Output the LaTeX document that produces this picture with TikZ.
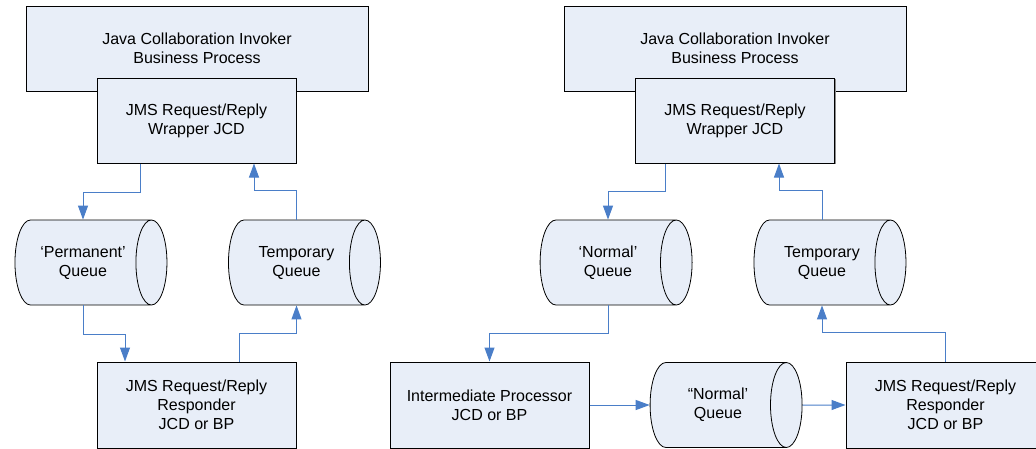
\documentclass[tikz,border=0pt]{standalone}
\usepackage{fontspec}
\setmainfont{Liberation Sans}
\usepackage{tikz}
\usetikzlibrary{arrows.meta,positioning,shapes.geometric,shadows}
\definecolor{boxfill}{HTML}{E8EEF8}
\definecolor{flowblue}{HTML}{4A7EC8}

\begin{document}
\begin{tikzpicture}[x=1pt, y=1pt, >={Triangle[width=10pt,length=14pt]},
  font=\fontsize{16}{19}\selectfont,
  proc/.style={draw, line width=1pt, fill=boxfill, align=center, inner sep=0pt,
    minimum width=199pt, minimum height=85pt,
    drop shadow={shadow xshift=1.2pt, shadow yshift=-1.2pt, fill=black!45, opacity=1}},
  queue/.style={cylinder, draw, line width=0.8pt, fill=boxfill, align=center,
    inner sep=0pt, minimum height=152pt, minimum width=85pt, aspect=0.94},
  flow/.style={->, flowblue, line width=1pt}]
  \useasboundingbox (0,0) rectangle (1036,-448);

  % requester side, left
  \node[proc, minimum width=342pt] (bpL) at (197,-48.5) {Java Collaboration Invoker\\Business Process};
  \node[proc] (wrapL) at (196.5,-120.5) {JMS Request/Reply\\Wrapper JCD};
  \node[queue] (permQ) at (83,-262.5) {‘Permanent’\\Queue};
  \node[queue] (tempQL) at (296.5,-262.5) {Temporary\\Queue};
  \node[proc, minimum height=86pt] (respL) at (196.5,-405) {JMS Request/Reply\\Responder\\JCD or BP};

  \draw[flow] ([xshift=-56.5pt]wrapL.south) -- ++(0,-29) -| (permQ.north);
  \draw[flow] (tempQL.north) -- ++(0,29) -| ([xshift=57.5pt]wrapL.south);
  \draw[flow] (permQ.south) -- ++(0,-29) -| ([xshift=-71.5pt]respL.north);
  \draw[flow] ([xshift=42.5pt]respL.north) -- ++(0,28) -| (tempQL.south);

  % right, with an intermediate processor
  \node[proc, minimum width=342pt] (bpR) at (735,-48.5) {Java Collaboration Invoker\\Business Process};
  \node[proc] (wrapR) at (735,-120.5) {JMS Request/Reply\\Wrapper JCD};
  \node[queue] (normQ) at (608,-262.5) {‘Normal’\\Queue};
  \node[queue] (tempQR) at (822,-262.5) {Temporary\\Queue};
  \node[proc, minimum height=86pt] (interm) at (489.5,-405) {Intermediate Processor\\JCD or BP};
  \node[queue] (normQ2) at (718,-405) {“Normal’\\Queue};
  \node[proc, minimum height=86pt] (respR) at (945.5,-405) {JMS Request/Reply\\Responder\\JCD or BP};

  \draw[flow] ([xshift=-70pt]wrapR.south) -- ++(0,-28) -| (normQ.north);
  \draw[flow] (tempQR.north) -- ++(0,29) -| ([xshift=44pt]wrapR.south);
  \draw[flow] (normQ.south) -- ++(0,-28) -| (interm.north);
  \draw[flow] (respR.north) -- ++(0,29) -| (tempQR.south);
  \draw[flow] (interm.east) -- (normQ2.west);
  \draw[flow] (normQ2.east) -- (respR.west);
\end{tikzpicture}
\end{document}
